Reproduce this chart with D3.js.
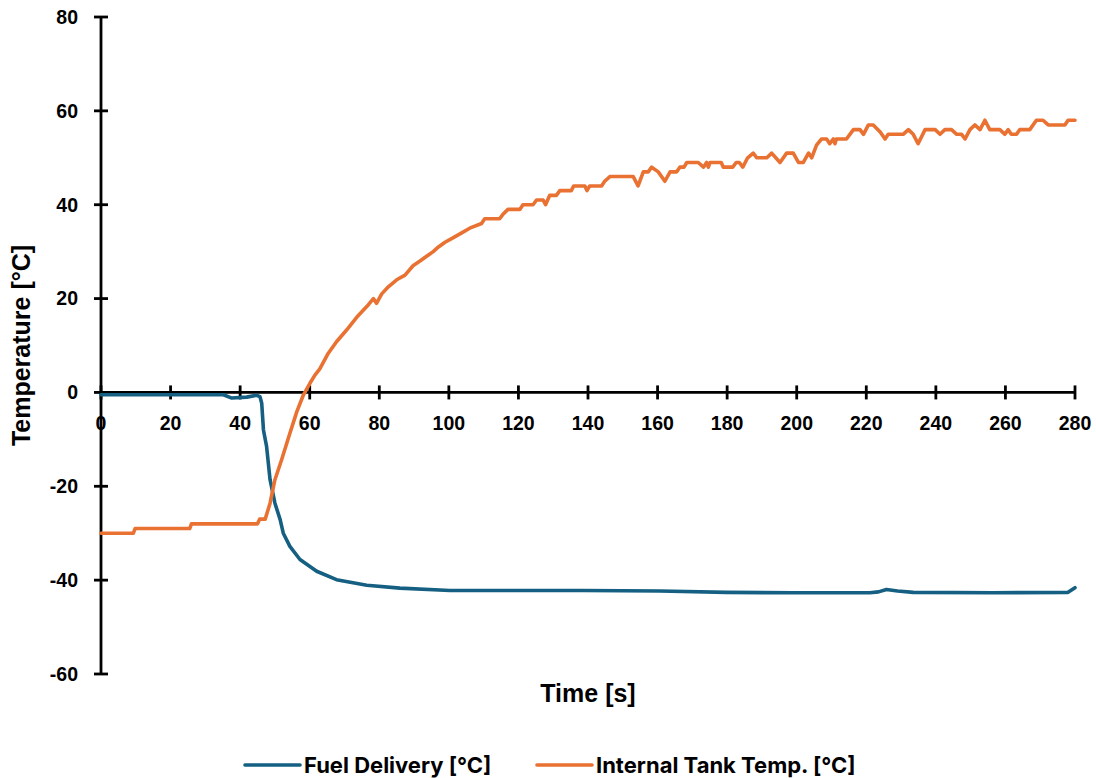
<!DOCTYPE html>
<html>
<head>
<meta charset="utf-8">
<script src="https://cdn.jsdelivr.net/npm/d3@7"></script>
<style>
  html, body { margin: 0; padding: 0; background: #fff; }
  svg { display: block; }
</style>
</head>
<body>
<script>
// ---- data ----
const xTicks = [0, 20, 40, 60, 80, 100, 120, 140, 160, 180, 200, 220, 240, 260, 280];
const yTicks = [-60, -40, -20, 0, 20, 40, 60, 80];
const seriesNames = ["Fuel Delivery [°C]", "Internal Tank Temp. [°C]"];
const seriesColors = ["#156082", "#E97132"];

const fuelTime = [0, 20, 35.2, 37.6, 41.9, 44.7, 45.7, 46.2, 46.7, 47.6, 48.6, 50, 51.5, 52.4, 54.3, 57.2, 62, 67.7, 76.4, 85.9, 100.3, 119.5, 138.6, 160.7, 179.8, 199, 221, 223.5, 225.8, 229, 233.5, 256.5, 278, 280];
const fuelTemp = [-0.5, -0.5, -0.5, -1.2, -1, -0.6, -0.9, -2.3, -8, -11.5, -18.6, -23.6, -27.1, -30, -32.8, -35.6, -38.1, -39.9, -41.1, -41.7, -42.2, -42.2, -42.2, -42.3, -42.6, -42.7, -42.7, -42.5, -42.0, -42.3, -42.6, -42.7, -42.6, -41.6];

const tankTime = [0, 9.3, 9.8, 25.5, 26, 45, 45.6, 47.2, 48.6, 50, 51.9, 54.3, 56.3, 58.2, 60.1, 61.5, 62.9, 65.3, 67.7, 70.6, 73.5, 76.4, 78.3, 79.2, 80.7, 82.6, 85, 87.4, 89.7, 91.7, 93.6, 95.5, 97, 98.9, 101.3, 103.7, 106, 109.4, 110.3, 114.6, 115.6, 117, 120.4, 121.3, 124.2, 125.2, 127.1, 127.8, 129, 130.9, 131.9, 135.2, 135.9, 139.1, 139.7, 140.5, 143.9, 144.8, 146.3, 153, 154.4, 155.9, 157.3, 158.3, 160.2, 162.1, 163.6, 165.5, 166.4, 167.6, 168.4, 171.7, 173.2, 174.1, 174.6, 175.1, 178.3, 178.9, 181.6, 182.6, 183.5, 184.5, 185.9, 187.5, 188.5, 191.4, 192.8, 195.2, 197.1, 199, 200.5, 201.9, 203.4, 204.3, 205.7, 207.1, 208.6, 209.5, 210.5, 211, 211.4, 214.3, 216.3, 218.2, 219.2, 220.6, 222, 224, 225.4, 226.3, 230.6, 232.1, 233.5, 234.9, 236.9, 239.8, 241.2, 242.6, 244.5, 246, 247.4, 248.4, 249.8, 251.2, 252.7, 254.1, 255.5, 258.4, 259.8, 260.8, 261.7, 263.2, 264.1, 267, 268.9, 270.8, 272.3, 277.1, 278, 280];
const tankTemp = [-30, -30, -29, -29, -28, -28, -27, -27, -23.6, -18.6, -14.4, -8.7, -4.1, -0.5, 2, 3.7, 5, 8.3, 10.8, 13.3, 16, 18.3, 20, 19, 21, 22.5, 24, 25, 27, 28, 29, 30, 31, 32, 33, 34, 35, 36, 37, 37, 38, 39, 39, 40, 40, 41, 41, 40, 42, 42, 43, 43, 44, 44, 43, 44, 44, 45, 46, 46, 44, 47, 47, 48, 47, 45, 47, 47, 48, 48, 49, 49, 48, 49, 48, 49, 49, 48, 48, 49, 49, 48, 50, 51, 50, 50, 51, 49, 51, 51, 49, 49, 51, 50, 52.7, 54, 54, 53, 54, 53, 54, 54, 56, 56, 55, 57, 57, 55.5, 54, 55, 55, 56, 55, 53, 56, 56, 55, 56, 56, 55, 55, 54, 56, 57, 56, 58, 56, 56, 55, 56, 55, 55, 56, 56, 58, 58, 57, 57, 58, 58];

// ---- chart ----
const W = 1096, H = 778;
const svg = d3.select("body").append("svg").attr("width", W).attr("height", H);

const x = d3.scaleLinear().domain([0, 280]).range([101, 1075]);
const y = d3.scaleLinear().domain([-60, 80]).range([674, 17]);

const axisColor = "#000";
const tickFont = "'Liberation Sans', Arial, sans-serif";
const axisW = 2.8;
const tickHalf = 7;

// Y axis line
svg.append("line")
  .attr("x1", x(0)).attr("x2", x(0))
  .attr("y1", y(80)).attr("y2", y(-60))
  .attr("stroke", axisColor).attr("stroke-width", axisW);
svg.selectAll(".ytick").data(yTicks).enter().append("line")
  .attr("x1", x(0) - tickHalf).attr("x2", x(0) + tickHalf)
  .attr("y1", d => y(d)).attr("y2", d => y(d))
  .attr("stroke", axisColor).attr("stroke-width", axisW);
svg.selectAll(".ylab").data(yTicks).enter().append("text")
  .attr("x", 78).attr("y", d => y(d))
  .attr("dy", "0.35em")
  .attr("text-anchor", "end")
  .attr("font-family", tickFont).attr("font-weight", "bold").attr("font-size", 19.5)
  .attr("fill", "#000")
  .text(d => d);

// X axis line at y=0
svg.append("line")
  .attr("x1", x(0)).attr("x2", x(280))
  .attr("y1", y(0)).attr("y2", y(0))
  .attr("stroke", axisColor).attr("stroke-width", axisW);
svg.selectAll(".xtick").data(xTicks).enter().append("line")
  .attr("x1", d => x(d)).attr("x2", d => x(d))
  .attr("y1", y(0) - tickHalf).attr("y2", y(0) + tickHalf)
  .attr("stroke", axisColor).attr("stroke-width", axisW);
svg.selectAll(".xlab").data(xTicks).enter().append("text")
  .attr("x", d => x(d)).attr("y", y(0) + 38)
  .attr("text-anchor", "middle")
  .attr("font-family", tickFont).attr("font-weight", "bold").attr("font-size", 19.5)
  .attr("fill", "#000")
  .text(d => d);

// Axis titles
svg.append("text")
  .attr("transform", `translate(30, ${y(10)}) rotate(-90)`)
  .attr("text-anchor", "middle")
  .attr("font-family", tickFont).attr("font-weight", "bold").attr("font-size", 25)
  .text("Temperature [°C]");
svg.append("text")
  .attr("x", 588).attr("y", 702)
  .attr("text-anchor", "middle")
  .attr("font-family", tickFont).attr("font-weight", "bold").attr("font-size", 25)
  .text("Time [s]");

// Lines
const line = d3.line().x(d => x(d[0])).y(d => y(d[1]));
const fuelData = fuelTime.map((t, i) => [t, fuelTemp[i]]);
const tankData = tankTime.map((t, i) => [t, tankTemp[i]]);

svg.append("path").datum(fuelData)
  .attr("d", line).attr("fill", "none")
  .attr("stroke", seriesColors[0]).attr("stroke-width", 3.6)
  .attr("stroke-linejoin", "round").attr("stroke-linecap", "round");
svg.append("path").datum(tankData)
  .attr("d", line).attr("fill", "none")
  .attr("stroke", seriesColors[1]).attr("stroke-width", 3.6)
  .attr("stroke-linejoin", "round").attr("stroke-linecap", "round");

// Legend
const legendFont = "Inter, 'Noto Sans', sans-serif";
const legendItems = [
  { lx: 245, tx: 304 },
  { lx: 537, tx: 596 }
];
legendItems.forEach((it, i) => {
  svg.append("line")
    .attr("x1", it.lx).attr("x2", it.lx + 55)
    .attr("y1", 765).attr("y2", 765)
    .attr("stroke", seriesColors[i]).attr("stroke-width", 3.6)
    .attr("stroke-linecap", "round");
  svg.append("text")
    .attr("x", it.tx).attr("y", 765).attr("dy", "0.35em")
    .attr("font-family", legendFont).attr("font-weight", "bold").attr("font-size", 22)
    .attr("fill", "#000")
    .text(seriesNames[i]);
});
</script>
</body>
</html>
